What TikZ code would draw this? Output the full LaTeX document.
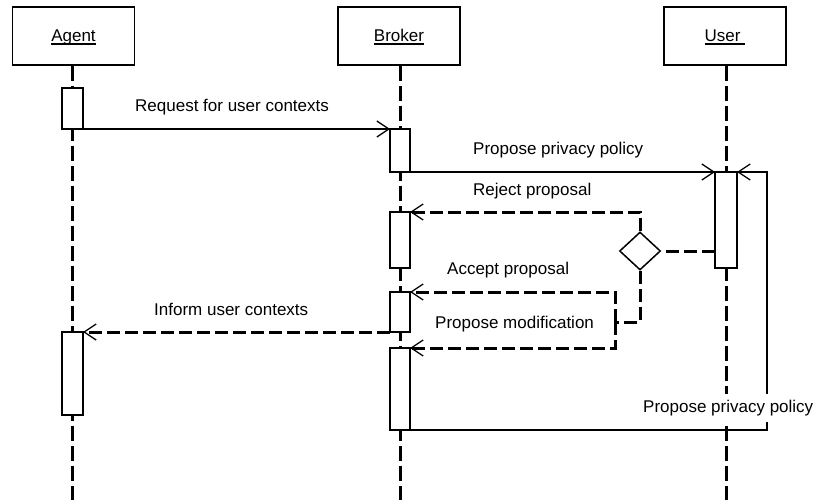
\documentclass[tikz,border=0pt]{standalone}
\usepackage{fontspec}
\setmainfont{Liberation Sans}
\usetikzlibrary{arrows.meta,shapes.geometric}
% underlined object name with a firm rule
\newcommand\ulin[1]{\setbox0\hbox{#1}\rlap{\rule[-2.6pt]{\wd0}{1.3pt}}\box0}

\begin{document}
\begin{tikzpicture}[x=1pt,y=-1pt,
  every node/.style={font=\fontsize{17}{20}\selectfont},
  head/.style={draw, line width=1.8pt, minimum width=122pt, minimum height=58pt,
    inner sep=0pt, text height=12pt, text depth=0pt},
  life/.style={line width=3pt, dash pattern=on 15pt off 5pt},
  act/.style={draw, fill=white, line width=1.3pt, inner sep=0pt, outer sep=0pt},
  tip/.style={-{Straight Barb[length=12pt,width=16pt,line width=1.3pt]}},
  msg/.style={line width=1.3pt, tip},
  dline/.style={line width=3pt, dash pattern=on 13pt off 5pt},
  reply/.style={dline, tip},
  lbl/.style={anchor=base west, inner sep=0pt}
]
\useasboundingbox (0,0) rectangle (813,500);

% object headers
\node[head] (agent)  at (73.5,36) {\ulin{Agent}};
\node[head] (broker) at (399,36)  {\ulin{Broker}};
\node[head] (user)   at (725,36)  {\ulin{User\ }};

% lifelines
\coordinate (aend) at (72.5,500);
\coordinate (bend) at (400,500);
\coordinate (uend) at (726,500);
\draw[life] (agent.south -| aend) -- (aend);
\draw[life] (broker.south -| bend) -- (bend);
\draw[life] (user.south -| uend) -- (uend);

% activation bars
\node[act, minimum width=21pt, minimum height=41pt] (a1) at (72.5,108.5) {};
\node[act, minimum width=21pt, minimum height=83pt] (a2) at (72.5,373.5) {};
\node[act, minimum width=20pt, minimum height=43pt] (b1) at (400,150.5) {};
\node[act, minimum width=20pt, minimum height=56pt] (b2) at (400,240) {};
\node[act, minimum width=20pt, minimum height=40pt] (b3) at (400,312) {};
\node[act, minimum width=20pt, minimum height=82pt] (b4) at (400,389) {};
\node[act, minimum width=22pt, minimum height=96pt] (u1) at (726,220) {};

% decision
\node[diamond, draw, line width=1.5pt, minimum width=41pt, minimum height=38pt,
  inner sep=0pt] (d) at (640,251) {};

% messages
\draw[msg] (a1.south east) -- (b1.north west);
\draw[msg] (b1.south east) -- (u1.north west);
\coordinate (loop) at (767,430);
\draw[msg] (b4.south east) -- (loop) |- (u1.north east);

\draw[dline] (u1.west |- d.east) -- (d.east);
\draw[reply] (d.north) |- (b2.north east);
\coordinate (m) at (615,322);
\draw[dline] (d.south) |- (m);
\draw[reply] (m) |- (b3.north east);
\draw[reply] (m) |- (b4.north east);
\draw[reply] (b3.south west) -- (a2.north east);

% labels
\node[lbl] at (135,112) {Request for user contexts};
\node[lbl] at (473,154) {Propose privacy policy};
\node[lbl] at (473,195) {Reject proposal};
\node[lbl] at (447,274) {Accept proposal};
\node[lbl] at (154,315) {Inform user contexts};
\node[lbl] at (435,328) {Propose modification};
\node[lbl, fill=white, inner xsep=1pt, inner ysep=6pt] at (642,412) {Propose privacy policy};
\end{tikzpicture}
\end{document}
